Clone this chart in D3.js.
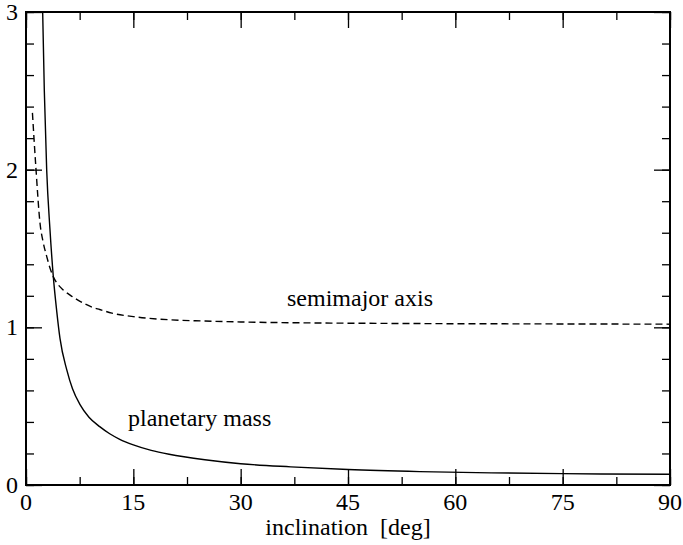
<!DOCTYPE html>
<html>
	<head>
		<script src="https://d3js.org/d3.v7.min.js"></script>
		<style>
			body { margin: 0; background: #fff; }
			text { font-family: "Liberation Serif", "DejaVu Serif", serif; fill: #000; }
		</style>
	</head>
	<body>
		<script>
			// values
			var mass_x = [2.33, 2.56, 2.89, 3.35, 3.82, 4.3, 4.75, 5.7, 6.5, 7.55, 8.8, 10.3, 11.7, 13.1, 15, 17.5, 20, 25, 30, 37, 45, 55, 65, 75, 90];
			var mass_y = [3.0, 2.5, 2.0, 1.62, 1.32, 1.1, 0.93, 0.73, 0.61, 0.51, 0.43, 0.37, 0.325, 0.29, 0.255, 0.22, 0.195, 0.16, 0.135, 0.115, 0.098, 0.085, 0.077, 0.072, 0.068];
			var axis_x = [0.9, 1.4, 1.96, 2.4, 2.89, 3.4, 3.82, 4.5, 5.2, 6.3, 7.55, 9.4, 10.3, 12, 15, 20, 25, 30, 40, 50, 60, 70, 80, 90];
			var axis_y = [2.36, 2.0, 1.66, 1.54, 1.45, 1.37, 1.32, 1.27, 1.237, 1.2, 1.165, 1.125, 1.113, 1.09, 1.068, 1.048, 1.04, 1.034, 1.028, 1.025, 1.023, 1.022, 1.021, 1.02];
			var x_ticks = [0, 15, 30, 45, 60, 75, 90];
			var y_ticks = [0, 1, 2, 3];

			var width = 683;
			var height = 545;
			var m_left = 26, m_right = 670, m_top = 12, m_bottom = 485;

			var svg = d3.select('body').append('svg')
				.attr('width', width)
				.attr('height', height)
				.attr('font-family', '"Liberation Serif", serif');

			var x = d3.scaleLinear().domain([0, 90]).range([m_left, m_right]);
			var y = d3.scaleLinear().domain([0, 3]).range([m_bottom, m_top]);

			var x_minor = d3.range(0, 90.1, 7.5);
			var y_minor = d3.range(0, 3.01, 0.2);

			// ticks on all four sides, pointing in
			function add_axis(ax, translate) {
				svg.append('g')
					.attr('transform', translate)
					.call(ax)
					.call(function (g) {
						g.select('.domain').remove();
						g.selectAll('text').remove();
						g.selectAll('line').attr('stroke', '#000').attr('stroke-width', 1.3);
					});
			}
			add_axis(d3.axisBottom(x).tickValues(x_minor).tickSize(-8), 'translate(0,' + m_bottom + ')');
			add_axis(d3.axisBottom(x).tickValues(x_ticks).tickSize(-16), 'translate(0,' + m_bottom + ')');
			add_axis(d3.axisTop(x).tickValues(x_minor).tickSize(-8), 'translate(0,' + m_top + ')');
			add_axis(d3.axisTop(x).tickValues(x_ticks).tickSize(-16), 'translate(0,' + m_top + ')');
			add_axis(d3.axisLeft(y).tickValues(y_minor).tickSize(-8), 'translate(' + m_left + ',0)');
			add_axis(d3.axisLeft(y).tickValues(y_ticks).tickSize(-16), 'translate(' + m_left + ',0)');
			add_axis(d3.axisRight(y).tickValues(y_minor).tickSize(-8), 'translate(' + m_right + ',0)');
			add_axis(d3.axisRight(y).tickValues(y_ticks).tickSize(-16), 'translate(' + m_right + ',0)');

			// tick labels
			svg.selectAll('.xlab').data(x_ticks).enter().append('text')
				.attr('x', function (d) { return x(d); })
				.attr('y', 510)
				.attr('text-anchor', 'middle')
				.style('font-size', '24px')
				.text(function (d) { return d; });
			svg.selectAll('.ylab').data(y_ticks).enter().append('text')
				.attr('x', 18)
				.attr('y', function (d) { return y(d) + 8; })
				.attr('text-anchor', 'end')
				.style('font-size', '24px')
				.text(function (d) { return d; });

			svg.append('text')
				.attr('x', (m_left + m_right) / 2)
				.attr('y', 535)
				.attr('text-anchor', 'middle')
				.style('font-size', '24px')
				.style('white-space', 'pre')
				.text('inclination  [deg]');

			// curves
			svg.append('clipPath').attr('id', 'clip')
				.append('rect')
				.attr('x', m_left).attr('y', m_top)
				.attr('width', m_right - m_left).attr('height', m_bottom - m_top);

			var line = d3.line()
				.x(function (d) { return x(d[0]); })
				.y(function (d) { return y(d[1]); })
				.curve(d3.curveMonotoneX);

			svg.append('path')
				.datum(d3.zip(mass_x, mass_y))
				.attr('clip-path', 'url(#clip)')
				.attr('d', line)
				.attr('fill', 'none')
				.attr('stroke', '#000')
				.attr('stroke-width', 1.4);

			svg.append('path')
				.datum(d3.zip(axis_x, axis_y))
				.attr('clip-path', 'url(#clip)')
				.attr('d', line)
				.attr('fill', 'none')
				.attr('stroke', '#000')
				.attr('stroke-width', 1.4)
				.attr('stroke-dasharray', '7,4');

			svg.append('text')
				.attr('x', 287).attr('y', 306)
				.style('font-size', '24px')
				.text('semimajor axis');
			svg.append('text')
				.attr('x', 128).attr('y', 426)
				.style('font-size', '24px')
				.text('planetary mass');

			// frame
			svg.append('rect')
				.attr('x', m_left).attr('y', m_top)
				.attr('width', m_right - m_left).attr('height', m_bottom - m_top)
				.attr('fill', 'none')
				.attr('stroke', '#000')
				.attr('stroke-width', 2);
		</script>
	</body>
</html>
